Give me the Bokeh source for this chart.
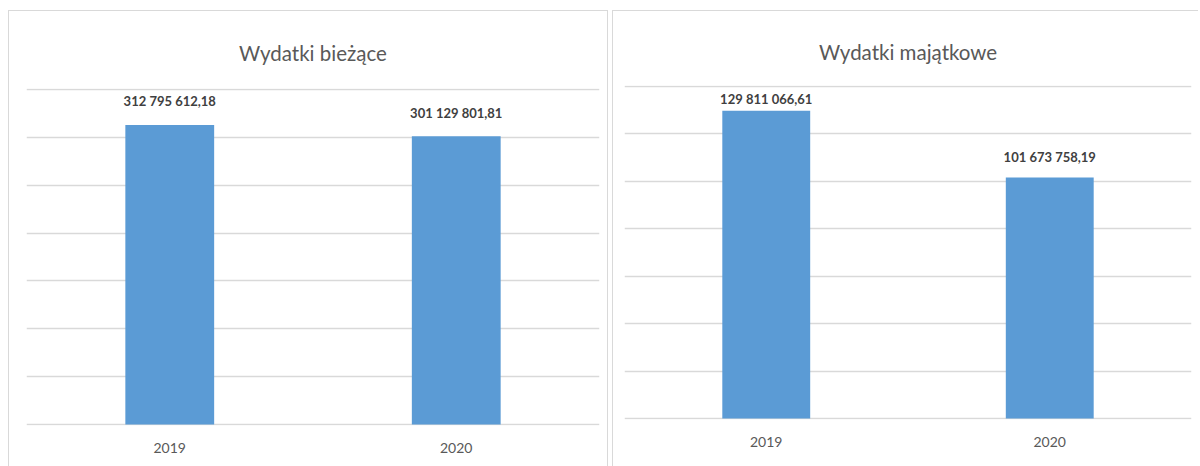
from bokeh.plotting import figure
from bokeh.layouts import row, column
from bokeh.models import ColumnDataSource, FixedTicker, Range1d
from bokeh.core.properties import value
from bokeh.embed import file_html
from bokeh.resources import INLINE

# ---- data ----
years = ["2019", "2020"]
biezace = [312795612.18, 301129801.81]
majatkowe = [129811066.61, 101673758.19]
title_left = "Wydatki bieżące"
title_right = "Wydatki majątkowe"
ticks_left = [0, 50e6, 100e6, 150e6, 200e6, 250e6, 300e6, 350e6]
ticks_right = [0, 20e6, 40e6, 60e6, 80e6, 100e6, 120e6, 140e6]

FONT = "Lato"
BAR = "#5b9bd5"
GRID = "#d9d9d9"


def fmt(v):
    return f"{v:,.2f}".replace(",", " ").replace(".", ",")


def panel(title, values, ticks, width, lifts, mb, standoff):
    pad = (ticks[-1] - ticks[0]) * 0.003
    p = figure(x_range=years, y_range=Range1d(ticks[0] - pad, ticks[-1] + pad),
               width=width, height=456,
               output_backend="svg", toolbar_location=None,
               min_border_left=mb[0], min_border_right=mb[1],
               min_border_top=mb[2], min_border_bottom=mb[3])
    src = ColumnDataSource(dict(x=years, top=values, lab=[fmt(v) for v in values],
                                lift=[-v for v in lifts]))
    p.vbar(x="x", top="top", width=0.31, source=src, color=BAR, line_color=None)
    p.text(x="x", y="top", text="lab", source=src, y_offset="lift",
           text_align="center", text_baseline="middle",
           text_font=value(FONT), text_font_style="bold", text_font_size="13px",
           text_color="#404040")
    p.title.text = title
    p.title.align = "center"
    p.title.text_font = FONT
    p.title.text_font_style = "normal"
    p.title.text_font_size = "20.5px"
    p.title.text_color = "#595959"
    p.title.standoff = standoff
    p.yaxis.visible = False
    p.yaxis.ticker = FixedTicker(ticks=ticks)
    p.ygrid.ticker = FixedTicker(ticks=ticks)
    p.ygrid.grid_line_color = GRID
    p.ygrid.grid_line_width = 1.6
    p.xgrid.grid_line_color = None
    p.xaxis.axis_line_color = None
    p.xaxis.major_tick_line_color = None
    p.xaxis.minor_tick_line_color = None
    p.xaxis.major_tick_out = 0
    p.xaxis.major_tick_in = 0
    p.xaxis.major_label_text_font = FONT
    p.xaxis.major_label_text_font_size = "14px"
    p.xaxis.major_label_text_color = "#595959"
    p.xaxis.major_label_standoff = 17
    p.outline_line_color = None
    return p


p1 = panel(title_left, biezace, ticks_left, 600, [24, 23], (17, 10, 77, 42), 47)
p1.styles = {"border-top": "1px solid #d9d9d9", "border-left": "1px solid #d9d9d9",
             "border-right": "1px solid #d9d9d9", "box-sizing": "border-box"}
p2 = panel(title_right, majatkowe, ticks_right, 586, [12, 20], (11, 8, 74, 48), 44)
p2.styles = {"border-top": "1px solid #d9d9d9", "border-left": "1px solid #d9d9d9",
             "box-sizing": "border-box"}

layout = row(column(p1), column(p2), spacing=4, margin=(10, 0, 0, 8))
open("out.html", "w").write(file_html(layout, INLINE))
